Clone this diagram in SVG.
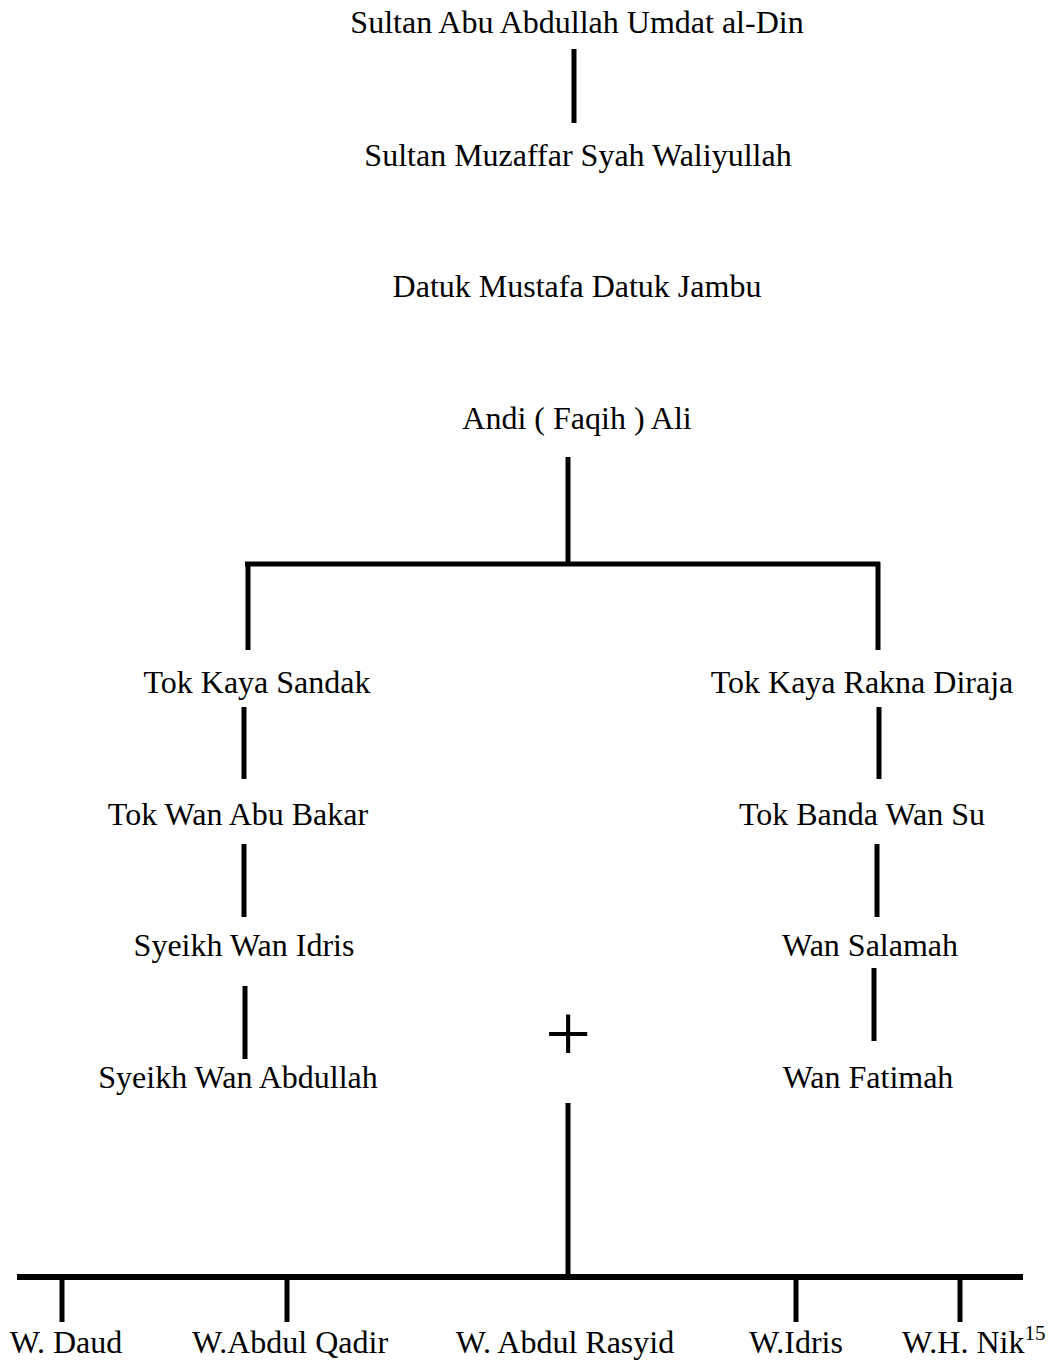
<svg xmlns="http://www.w3.org/2000/svg" width="1054" height="1361" viewBox="0 0 1054 1361">
<style>
text{font-family:"Liberation Serif","Times New Roman",serif;font-size:32px;fill:#000;text-anchor:middle}
.c line{stroke:#000;stroke-width:5;stroke-linecap:butt}
.c .w{stroke-width:6}
</style>
<rect width="1054" height="1361" fill="#fff"/>
<g class="c" id="connectors">
<line x1="574" y1="49" x2="574" y2="123"/>
<line x1="568" y1="457" x2="568" y2="564"/>
<line x1="245" y1="564" x2="880" y2="564"/>
<line x1="248" y1="562" x2="248" y2="650"/>
<line x1="878" y1="562" x2="878" y2="650"/>
<line x1="244" y1="707" x2="244" y2="779"/>
<line x1="879" y1="707" x2="879" y2="779"/>
<line x1="244" y1="844" x2="244" y2="917"/>
<line x1="877" y1="844" x2="877" y2="917"/>
<line x1="245" y1="986" x2="245" y2="1059"/>
<line x1="874" y1="968" x2="874" y2="1041"/>
<line x1="568" y1="1103" x2="568" y2="1278"/>
<line class="w" x1="17" y1="1277" x2="1023" y2="1277"/>
<line x1="62" y1="1277" x2="62" y2="1322"/>
<line x1="287" y1="1277" x2="287" y2="1322"/>
<line x1="796" y1="1277" x2="796" y2="1322"/>
<line x1="960" y1="1277" x2="960" y2="1322"/>
</g>
<g id="n-sultan-abu"><text x="577" y="33">Sultan Abu Abdullah Umdat al-Din</text></g>
<g id="n-muzaffar"><text x="578" y="166">Sultan Muzaffar Syah Waliyullah</text></g>
<g id="n-mustafa"><text x="577" y="297">Datuk Mustafa Datuk Jambu</text></g>
<g id="n-andi"><text x="577" y="429">Andi ( Faqih ) Ali</text></g>
<g id="n-sandak"><text x="257" y="693">Tok Kaya Sandak</text></g>
<g id="n-rakna"><text x="862" y="693">Tok Kaya Rakna Diraja</text></g>
<g id="n-abubakar"><text x="238" y="825">Tok Wan Abu Bakar</text></g>
<g id="n-banda"><text x="862" y="825">Tok Banda Wan Su</text></g>
<g id="n-idris"><text x="244" y="956">Syeikh Wan Idris</text></g>
<g id="n-salamah"><text x="870" y="956">Wan Salamah</text></g>
<g id="n-abdullah"><text x="238" y="1088">Syeikh Wan Abdullah</text></g>
<g id="n-fatimah"><text x="868" y="1088">Wan Fatimah</text></g>
<g id="n-plus"><text x="568" y="1061" style="font-size:82px">+</text></g>
<g id="n-daud"><text x="66" y="1353">W. Daud</text></g>
<g id="n-qadir"><text x="290" y="1353">W.Abdul Qadir</text></g>
<g id="n-rasyid"><text x="565" y="1353">W. Abdul Rasyid</text></g>
<g id="n-widris"><text x="796" y="1353">W.Idris</text></g>
<g id="n-nik"><text x="902" y="1353" style="text-anchor:start">W.H. Nik<tspan dy="-13" style="font-size:21px">15</tspan></text></g>
</svg>
